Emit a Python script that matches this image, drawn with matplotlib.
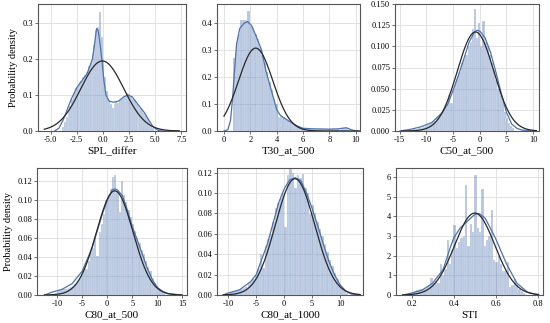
import numpy as np
import matplotlib
matplotlib.use("Agg")
import matplotlib.pyplot as plt

plt.rcParams["font.family"] = ["Liberation Serif", "DejaVu Serif"]

# ---- data (density histograms, KDE curves, normal fits) ----
names = ["SPL_differ", "T30_at_500", "C50_at_500", "C80_at_500", "C80_at_1000", "STI"]

# histogram ranges (first edge, last edge) and bar heights
spl_range = (-3.9, 4.9)
spl_hist = [0.01, 0.025, 0.04, 0.055, 0.07, 0.09, 0.105, 0.12, 0.125, 0.135,
            0.14, 0.15, 0.155, 0.165, 0.18, 0.19, 0.21, 0.24, 0.28, 0.29,
            0.33, 0.26, 0.2, 0.15, 0.11, 0.085, 0.075, 0.065, 0.075, 0.08,
            0.078, 0.085, 0.09, 0.095, 0.1, 0.105, 0.102, 0.095, 0.09, 0.085,
            0.075, 0.07, 0.065, 0.06, 0.05, 0.045, 0.035, 0.025, 0.015, 0.008]

t30_range = (0.7, 9.6)
t30_hist = [0.27, 0.33, 0.36, 0.41, 0.41, 0.41, 0.445, 0.39, 0.38, 0.36,
            0.34, 0.31, 0.28, 0.25, 0.22, 0.18, 0.15, 0.12, 0.1, 0.05,
            0.055, 0.05, 0.045, 0.04, 0.035, 0.03, 0.025, 0.02, 0.015, 0.012,
            0.01, 0.008, 0.008, 0.007, 0.008, 0.009, 0.007, 0.008, 0.007, 0.006,
            0.007, 0.006, 0.007, 0.006, 0.006, 0.005, 0.007, 0.012, 0.01, 0.004]

c50_range = (-13.5, 6.5)
c50_hist = [0.001, 0.001, 0.002, 0.002, 0.002, 0.003, 0.004, 0.005, 0.006, 0.007,
            0.008, 0.01, 0.012, 0.015, 0.017, 0.02, 0.024, 0.028, 0.032, 0.042,
            0.033, 0.05, 0.058, 0.065, 0.07, 0.08, 0.085, 0.09, 0.1, 0.105,
            0.12, 0.144, 0.11, 0.127, 0.1, 0.13, 0.105, 0.1, 0.09, 0.08,
            0.072, 0.06, 0.05, 0.042, 0.035, 0.022, 0.015, 0.01, 0.006, 0.003]

c80_500_range = (-10.5, 11.5)
c80_500_hist = [0.002, 0.004, 0.005, 0.006, 0.006, 0.006, 0.007, 0.008, 0.01, 0.012,
                0.015, 0.018, 0.022, 0.028, 0.027, 0.036, 0.045, 0.05, 0.06, 0.041,
                0.066, 0.075, 0.085, 0.1, 0.105, 0.112, 0.125, 0.127, 0.11, 0.088,
                0.12, 0.105, 0.098, 0.09, 0.082, 0.075, 0.068, 0.06, 0.055, 0.048,
                0.043, 0.036, 0.03, 0.025, 0.018, 0.013, 0.009, 0.006, 0.003, 0.002]

c80_1000_range = (-10.5, 11.5)
c80_1000_hist = [0.002, 0.002, 0.003, 0.003, 0.004, 0.005, 0.006, 0.007, 0.008, 0.011,
                 0.013, 0.016, 0.02, 0.025, 0.04, 0.026, 0.048, 0.055, 0.06, 0.072,
                 0.085, 0.09, 0.095, 0.1, 0.067, 0.118, 0.124, 0.12, 0.105, 0.118,
                 0.115, 0.119, 0.105, 0.1, 0.079, 0.088, 0.08, 0.072, 0.065, 0.058,
                 0.05, 0.042, 0.034, 0.028, 0.022, 0.016, 0.011, 0.007, 0.004, 0.002]

sti_range = (0.19, 0.74)
sti_hist = [0.1, 0.15, 0.2, 0.25, 0.3, 0.3, 0.3, 0.4, 0.5, 0.85,
            0.6, 0.7, 0.6, 1.6, 1.0, 1.3, 2.8, 1.6, 2.3, 3.55,
            2.4, 2.7, 2.9, 3.0, 5.6, 2.5, 3.6, 3.2, 6.1, 3.4,
            3.2, 5.4, 2.5, 2.8, 3.0, 4.3, 1.8, 1.7, 2.0, 1.6,
            1.2, 1.2, 1.7, 0.4, 0.5, 0.8, 0.5, 0.3, 0.2, 0.1]

# KDE curves (x, density)
spl_kde_x = [-4.6, -4.2, -3.8, -3.4, -3.0, -2.5, -2.0, -1.5, -1.0, -0.8, -0.6, -0.45,
             -0.3, -0.1, 0.1, 0.3, 0.6, 1.0, 1.5, 2.0, 2.4, 2.8, 3.2, 3.6, 4.0, 4.4,
             4.8, 5.2, 5.6, 7.3]
spl_kde_y = [0.0, 0.008, 0.03, 0.06, 0.09, 0.12, 0.14, 0.16, 0.2, 0.24, 0.285, 0.28,
             0.25, 0.2, 0.14, 0.1, 0.083, 0.08, 0.083, 0.095, 0.1, 0.095, 0.08, 0.065,
             0.05, 0.03, 0.012, 0.003, 0.0, 0.0]

t30_kde_x = [0.0, 0.3, 0.5, 0.65, 0.8, 0.95, 1.2, 1.55, 1.8, 2.1, 2.45, 2.85, 3.2,
             3.6, 4.0, 4.25, 4.5, 5.0, 5.5, 6.0, 6.8, 8.0, 8.7, 9.1, 9.3, 9.7, 10.0, 10.3]
t30_kde_y = [0.0, 0.005, 0.04, 0.12, 0.22, 0.32, 0.38, 0.4, 0.405, 0.39, 0.35, 0.3,
             0.22, 0.15, 0.08, 0.06, 0.05, 0.035, 0.02, 0.01, 0.008, 0.007, 0.008,
             0.011, 0.012, 0.004, 0.001, 0.0]

c50_kde_x = [-15.0, -13.0, -11.0, -9.0, -7.0, -6.0, -5.0, -4.0, -3.0, -2.0, -1.0,
             -0.5, 0.0, 1.0, 2.0, 3.0, 4.0, 5.0, 6.0, 7.0, 8.0, 10.5]
c50_kde_y = [0.0, 0.002, 0.005, 0.01, 0.022, 0.032, 0.048, 0.066, 0.085, 0.105, 0.117,
             0.119, 0.118, 0.11, 0.093, 0.07, 0.045, 0.022, 0.008, 0.003, 0.001, 0.0]

c80_500_kde_x = [-12.5, -11.0, -9.0, -7.0, -5.0, -3.0, -1.0, 0.0, 1.0, 1.5, 2.0, 3.0,
                 4.0, 5.0, 6.0, 7.0, 8.0, 9.0, 10.0, 11.0, 12.0, 14.8]
c80_500_kde_y = [0.0, 0.003, 0.006, 0.012, 0.025, 0.05, 0.085, 0.1, 0.111, 0.112, 0.111,
                 0.105, 0.09, 0.072, 0.058, 0.043, 0.028, 0.016, 0.008, 0.004, 0.0015, 0.0]

c80_1000_kde_x = [-10.9, -10.0, -8.0, -6.0, -5.0, -4.0, -3.0, -2.0, -1.0, 0.0, 1.0, 2.0,
                  3.0, 4.0, 5.0, 6.0, 7.0, 8.0, 9.0, 10.0, 11.0, 12.0, 13.6]
c80_1000_kde_y = [0.0, 0.002, 0.005, 0.013, 0.02, 0.035, 0.05, 0.07, 0.09, 0.104, 0.113,
                  0.115, 0.112, 0.1, 0.085, 0.068, 0.05, 0.033, 0.02, 0.01, 0.004, 0.001, 0.0]

sti_kde_x = [0.16, 0.2, 0.25, 0.3, 0.35, 0.38, 0.4, 0.43, 0.46, 0.5, 0.52, 0.55, 0.6,
             0.65, 0.7, 0.75, 0.8]
sti_kde_y = [0.0, 0.1, 0.25, 0.6, 1.3, 2.3, 2.9, 3.4, 3.7, 4.1, 4.15, 3.9, 2.85,
             1.6, 0.6, 0.15, 0.0]

# fitted normal: mean, std, drawn range
spl_fit = (-0.05, 2.05, -5.6, 7.3)
t30_fit = (2.41, 1.30, 0.0, 10.25)
c50_fit = (-0.8, 3.41, -14.7, 10.6)
c80_500_fit = (1.5, 3.63, -12.5, 14.9)
c80_1000_fit = (1.95, 3.50, -10.9, 13.6)
sti_fit = (0.50, 0.0957, 0.157, 0.803)

hist_ranges = [spl_range, t30_range, c50_range, c80_500_range, c80_1000_range, sti_range]
hists = [spl_hist, t30_hist, c50_hist, c80_500_hist, c80_1000_hist, sti_hist]
kdes = [(spl_kde_x, spl_kde_y), (t30_kde_x, t30_kde_y), (c50_kde_x, c50_kde_y),
        (c80_500_kde_x, c80_500_kde_y), (c80_1000_kde_x, c80_1000_kde_y),
        (sti_kde_x, sti_kde_y)]
fits = [spl_fit, t30_fit, c50_fit, c80_500_fit, c80_1000_fit, sti_fit]

xticks = [np.arange(-5, 7.6, 2.5), np.arange(0, 11, 2), np.arange(-15, 11, 5),
          np.arange(-10, 16, 5), np.arange(-10, 11, 5), np.arange(0.2, 0.81, 0.2)]
xlims = [(-6.2, 7.95), (-0.53, 10.33), (-15.9, 11.1), (-14.0, 15.9), (-12.0, 14.1),
         (0.126, 0.824)]
ylims = [(0, 0.353), (0, 0.47), (0, 0.15), (0, 0.134), (0, 0.1245), (0, 6.46)]
yticks = [[0.0, 0.1, 0.2, 0.3], [0.0, 0.1, 0.2, 0.3, 0.4],
          [0.0, 0.025, 0.05, 0.075, 0.1, 0.125, 0.15],
          [0.0, 0.02, 0.04, 0.06, 0.08, 0.1, 0.12],
          [0.0, 0.02, 0.04, 0.06, 0.08, 0.1, 0.12], [0, 1, 2, 3, 4, 5, 6]]
yfmt = ["{:.1f}", "{:.1f}", "{:.3f}", "{:.2f}", "{:.2f}", "{:.0f}"]
xfmt = ["{:.1f}", "{:.0f}", "{:.0f}", "{:.0f}", "{:.0f}", "{:.1f}"]

# axes boxes in pixels: left, right, top, bottom
boxes = [(38, 186, 4, 131), (217, 360, 4, 131), (395, 539, 4, 131),
         (37, 187, 168, 295), (217, 363, 168, 295), (396, 543, 168, 295)]

W, H = 550, 323
fig = plt.figure(figsize=(W / 100, H / 100), dpi=100)
blue = "#4c72b0"

for i in range(6):
    l, r, t, b = boxes[i]
    ax = fig.add_axes([l / W, 1 - b / H, (r - l) / W, (b - t) / H])
    lo, hi = hist_ranges[i]
    h = np.array(hists[i])
    edges = np.linspace(lo, hi, len(h) + 1)
    ax.bar(edges[:-1], h, width=np.diff(edges), align="edge", color=blue,
           alpha=0.4, edgecolor="white", linewidth=0.3, zorder=2)
    kx, ky = kdes[i]
    ax.plot(kx, ky, color=blue, lw=0.9, zorder=3)
    mu, sd, a, z = fits[i]
    xs = np.linspace(a, z, 200)
    ax.plot(xs, np.exp(-0.5 * ((xs - mu) / sd) ** 2) / (sd * np.sqrt(2 * np.pi)),
            color="#282828", lw=0.9, zorder=4)

    ax.set_xlim(*xlims[i])
    ax.set_ylim(*ylims[i])
    ax.set_xticks(xticks[i])
    ax.set_xticklabels([xfmt[i].format(v) for v in xticks[i]])
    ax.set_yticks(yticks[i])
    ax.set_yticklabels([yfmt[i].format(v) for v in yticks[i]])
    ax.grid(True, color="#dddddd", lw=0.6, zorder=0)
    ax.set_axisbelow(True)
    for s in ax.spines.values():
        s.set_color("#555555")
        s.set_linewidth(0.8)
    ax.tick_params(labelsize=6, length=2, width=0.6, color="#555555", pad=1.5)
    ax.set_xlabel(names[i], fontsize=8, labelpad=2)
    if i in (0, 3):
        ax.set_ylabel("Probability density", fontsize=7.5, labelpad=3)

fig.savefig("out.png", dpi=100)
